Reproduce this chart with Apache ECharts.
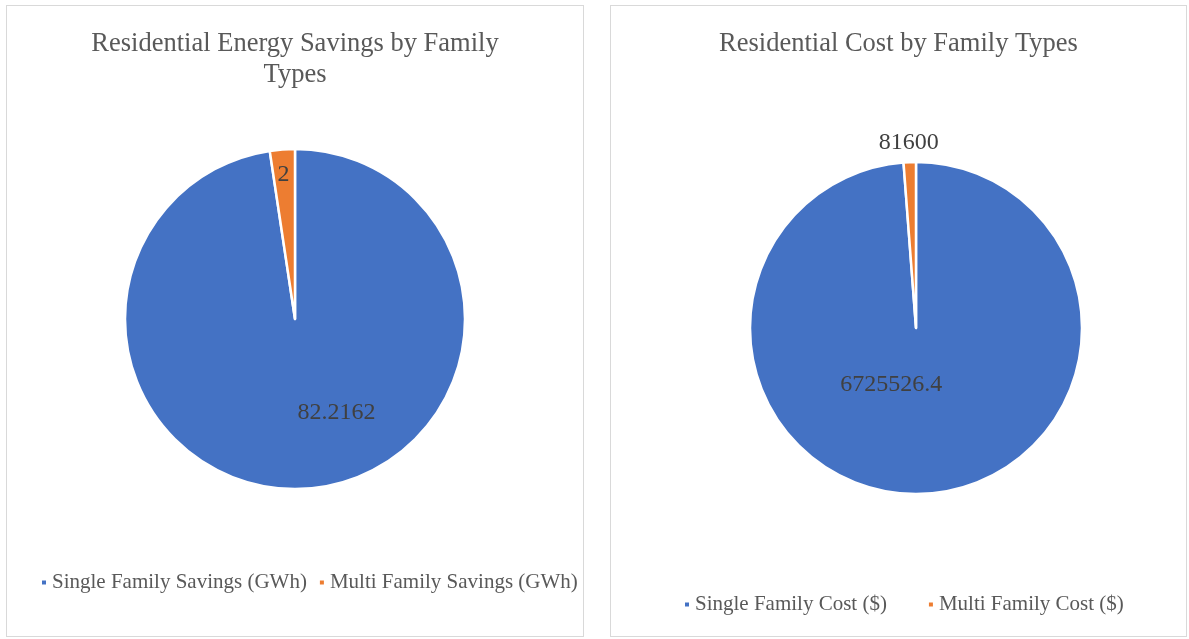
<!DOCTYPE html>
<html>
<head>
<meta charset="utf-8" />
<script src="https://cdn.jsdelivr.net/npm/echarts@6/dist/echarts.min.js"></script>
<style>
	html,
	body {
		margin: 0;
		padding: 0;
		background: #fff;
		width: 1189px;
		height: 639px;
		overflow: hidden;
	}
	.panel {
		position: absolute;
		top: 5px;
		height: 632px;
		box-sizing: border-box;
		border: 1px solid #d9d9d9;
	}
	#savingsPie {
		left: 6px;
		width: 578px;
	}
	#costPie {
		left: 610px;
		width: 577px;
	}
</style>
</head>
<body>
<div class="panel" id="savingsPie"></div>
<div class="panel" id="costPie"></div>

<script>
// data
const savingsNames = ['Single Family Savings (GWh)', 'Multi Family Savings (GWh)']
const savingsValues = [82.2162, 2]
const costNames = ['Single Family Cost ($)', 'Multi Family Cost ($)']
const costValues = [6725526.4, 81600]

const colors = ['#4472C4', '#ED7D31']
const fontFamily = "'Liberation Serif', 'Times New Roman', serif"

const textStyle = (color = '#595959', size = 21) => ({
	color: color,
	fontSize: size,
	fontFamily: fontFamily,
})

const buildOption = (title, names, values, cfg) => ({
	animation: false,
	color: colors,
	title: {
		text: title,
		left: 'center',
		top: cfg.titleTop,
		textStyle: Object.assign(textStyle('#595959', 26.5), {
			fontWeight: 'normal',
			lineHeight: 31,
		}),
	},
	legend: {
		data: names,
		left: cfg.legendLeft,
		top: cfg.legendTop,
		width: 620,
		icon: 'rect',
		itemWidth: 6,
		itemHeight: 6,
		itemGap: cfg.legendGap,
		textStyle: textStyle('#595959', 21),
	},
	series: [
		{
			type: 'pie',
			center: cfg.center,
			radius: cfg.radius,
			startAngle: 90,
			clockwise: true,
			silent: true,
			emphasis: { disabled: true },
			itemStyle: {
				borderColor: '#fff',
				borderWidth: 2.5,
			},
			label: {
				show: true,
				position: 'inside',
				formatter: (p) => `${p.value}`,
				textStyle: textStyle('#404040', 24),
			},
			labelLine: { show: false },
			labelLayout: (p) => cfg.labelShift[p.dataIndex],
			data: names.map((n, i) => ({ name: n, value: values[i] })),
		},
	],
})

const savingsChart = echarts.init(document.getElementById('savingsPie'))
savingsChart.setOption(
	buildOption('Residential Energy Savings by Family\nTypes', savingsNames, savingsValues, {
		titleTop: 18,
		legendLeft: 28,
		legendTop: 561,
		legendGap: 11,
		center: [288, 313],
		radius: '170',
		labelShift: [
			{ dx: 35, dy: 6 },
			{ dx: -5, dy: -57 },
		],
	})
)

const costChart = echarts.init(document.getElementById('costPie'))
costChart.setOption(
	buildOption('Residential Cost by Family Types', costNames, costValues, {
		titleTop: 18,
		legendLeft: 67,
		legendTop: 583,
		legendGap: 40,
		center: [305, 322],
		radius: '166',
		labelShift: [
			{ dx: -28, dy: -29 },
			{ dx: -4, dy: -99 },
		],
	})
)
</script>
</body>
</html>
